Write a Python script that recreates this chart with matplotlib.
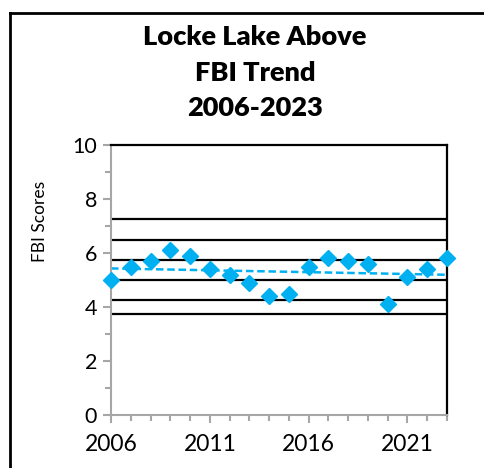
import matplotlib.pyplot as plt
import numpy as np
from matplotlib.lines import Line2D

# data
years = np.arange(2006, 2024)
fbi = [5.0, 5.5, 5.7, 6.1, 5.9, 5.4, 5.2, 4.9, 4.4,
       4.5, 5.5, 5.8, 5.7, 5.6, 4.1, 5.1, 5.4, 5.8]
bands = [3.75, 4.25, 5.0, 5.75, 6.5, 7.25]
xtick_years = [2006, 2011, 2016, 2021]

blue = '#00B0F0'
grey = '#A6A6A6'
font = ['Lato', 'DejaVu Sans']

fig = plt.figure(figsize=(4.85, 4.68), dpi=100)
ax = fig.add_axes([111/485, 1 - 415/468, 336/485, 270/468])

# band lines
for b in bands:
    ax.axhline(b, color='black', lw=1.6, zorder=1)

# trend
coef = np.polyfit(years, fbi, 1)
ax.plot(years, np.polyval(coef, years), '--', color=blue, lw=1.8, dashes=(3, 1.5), zorder=2)

# points
ax.plot(years, fbi, 'D', color=blue, markersize=8.5, zorder=3, clip_on=False)

ax.set_xlim(2006, 2023)
ax.set_ylim(0, 10)
ax.set_xticks(years, minor=True)
ax.set_xticks(xtick_years)
ax.set_yticks([0, 2, 4, 6, 8, 10])
ax.set_yticks([1, 3, 5, 7, 9], minor=True)

for s in ['left', 'bottom']:
    ax.spines[s].set_color(grey)
    ax.spines[s].set_linewidth(1.5)
for s in ['top', 'right']:
    ax.spines[s].set_color('black')
    ax.spines[s].set_linewidth(1.6)

ax.tick_params(which='both', direction='out', color=grey, width=1.5)
ax.tick_params(which='major', length=6)
ax.tick_params(which='minor', length=4)
ax.tick_params(axis='y', labelsize=15.5, pad=4)
ax.tick_params(axis='x', labelsize=16.5, pad=8)
for lab in ax.get_xticklabels() + ax.get_yticklabels():
    lab.set_family(font)

fig.text(40/485, 1 - 221/468, 'FBI Scores', rotation=90, ha='center', va='center',
         fontsize=12.5, family=font)

fig.text(255/485, 1 - 37/468, 'Locke Lake Above', ha='center', va='center',
         fontsize=19.5, fontweight='heavy', family=font)
fig.text(255/485, 1 - 73/468, 'FBI Trend', ha='center', va='center',
         fontsize=19.5, fontweight='heavy', family=font)
fig.text(255/485, 1 - 108/468, '2006-2023', ha='center', va='center',
         fontsize=19.5, fontweight='heavy', family=font)

# outer frame (left and top edges)
fig.add_artist(Line2D([10/485, 10/485], [0, 1 - 13/468], color='black', lw=2))
fig.add_artist(Line2D([10/485, 1], [1 - 13/468, 1 - 13/468], color='black', lw=2))

fig.savefig('out.png', dpi=100)
